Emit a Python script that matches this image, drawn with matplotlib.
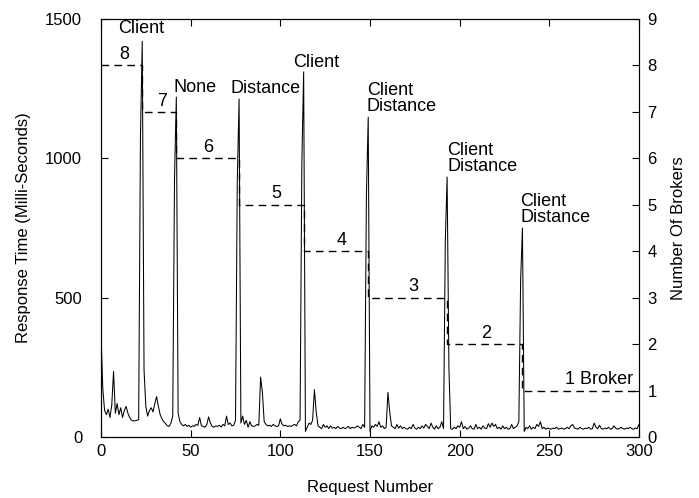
import matplotlib
matplotlib.use("Agg")
import matplotlib.pyplot as plt

plt.rcParams['font.family'] = ['Liberation Sans', 'DejaVu Sans']

# Response time per request (ms)
response_ms = [
    370, 175, 95, 80, 100, 70, 115, 235, 85, 120,
    80, 105, 70, 95, 110, 85, 70, 60, 58, 58,
    60, 62, 1080, 1420, 240, 110, 75, 95, 105, 90,
    120, 145, 110, 80, 65, 55, 48, 40, 38, 50,
    75, 930, 1220, 85, 55, 45, 40, 45, 38, 42,
    35, 40, 38, 45, 42, 70, 40, 38, 35, 45,
    72, 50, 38, 35, 40, 38, 42, 36, 45, 40,
    75, 45, 50, 40, 42, 60, 920, 1213, 50, 75,
    45, 60, 35, 55, 40, 38, 40, 45, 42, 215,
    160, 55, 45, 40, 42, 38, 45, 40, 38, 40,
    65, 45, 40, 42, 38, 40, 38, 42, 45, 40,
    55, 60, 985, 1310, 20, 35, 50, 45, 60, 170,
    90, 40, 35, 30, 45, 35, 40, 30, 40, 32,
    35, 30, 38, 32, 30, 35, 30, 33, 38, 30,
    35, 32, 35, 40, 35, 30, 45, 35, 865, 1148,
    20, 40, 35, 45, 38, 55, 35, 40, 30, 35,
    160, 90, 40, 35, 30, 45, 32, 40, 30, 35,
    30, 28, 35, 30, 45, 32, 28, 35, 30, 40,
    32, 45, 38, 30, 50, 35, 28, 40, 30, 35,
    55, 30, 705, 933, 250, 30, 28, 35, 30, 40,
    35, 55, 30, 38, 28, 32, 40, 30, 28, 45,
    30, 35, 28, 40, 32, 30, 48, 35, 50, 38,
    45, 30, 35, 28, 40, 30, 35, 28, 30, 45,
    30, 35, 40, 55, 565, 750, 20, 35, 30, 40,
    28, 35, 30, 45, 38, 55, 30, 35, 28, 32,
    30, 28, 32, 30, 35, 28, 30, 32, 28, 30,
    35, 30, 40, 45, 32, 30, 28, 35, 30, 28,
    32, 30, 35, 28, 30, 50, 35, 30, 42, 30,
    28, 32, 30, 35, 28, 30, 40, 32, 28, 30,
    35, 30, 28, 32, 30, 35, 30, 28, 32, 30,
    45,
]
requests = list(range(len(response_ms)))

# Number of brokers: step changes
broker_x = [0, 23, 42, 77, 113, 149, 193, 235, 300]
broker_n = [8, 7, 6, 5, 4, 3, 2, 1, 1]
broker_labels = ["8", "7", "6", "5", "4", "3", "2", "1 Broker"]
broker_label_x = [12.8, 34, 60, 97.6, 134, 174, 215, 296.5]

# Peak annotations (text, x, top of text in ms, alignment)
peak_texts = [
    ("Client", 22.3, 1495, 'center'),
    ("None", 40.7, 1283, 'left'),
    ("Distance", 72.0, 1280, 'left'),
    ("Client", 107.0, 1376, 'left'),
    ("Client\nDistance", 148.3, 1274, 'left'),
    ("Client\nDistance", 193.0, 1060, 'left'),
    ("Client\nDistance", 233.7, 877, 'left'),
]

fig = plt.figure(figsize=(6.99, 4.98), dpi=100)
ax = fig.add_axes([101/699, 61/498, 538/699, 418/498])
ax2 = ax.twinx()

ax.plot(requests, response_ms, color='black', lw=0.75)
ax.set_xlim(0, 300)
ax.set_ylim(0, 1500)
ax.set_xticks([0, 50, 100, 150, 200, 250, 300])
ax.set_yticks([0, 500, 1000, 1500])
ax.tick_params(axis='x', direction='in', top=True, labelsize=12, length=5, pad=5)
ax.tick_params(axis='y', direction='in', right=False, labelsize=12, length=5, pad=13.5)
ax.set_xlabel("Request Number", fontsize=12, labelpad=15)
ax.set_ylabel("Response Time (Milli-Seconds)", fontsize=12, labelpad=10)

ax2.step(broker_x, broker_n, where='post', color='black', lw=1.0,
         linestyle=(0, (5.5, 3.8)))
ax2.set_ylim(0, 9)
ax2.set_yticks(range(0, 10))
ax2.tick_params(axis='y', direction='in', labelsize=12, length=5, pad=6)
ax2.set_ylabel("Number Of Brokers", fontsize=12, labelpad=10)

for lab, lx, lv in zip(broker_labels, broker_label_x, broker_n[:-1]):
    ha = 'right' if 'Broker' in lab else 'center'
    ax2.text(lx, lv + 0.05, lab, ha=ha, va='bottom', fontsize=13)

for txt, px, top, ha in peak_texts:
    ax.text(px, top, txt, ha=ha, va='top', fontsize=13, linespacing=0.95)

for a in (ax, ax2):
    for s in a.spines.values():
        s.set_linewidth(0.8)

fig.savefig("out.png", dpi=100)
